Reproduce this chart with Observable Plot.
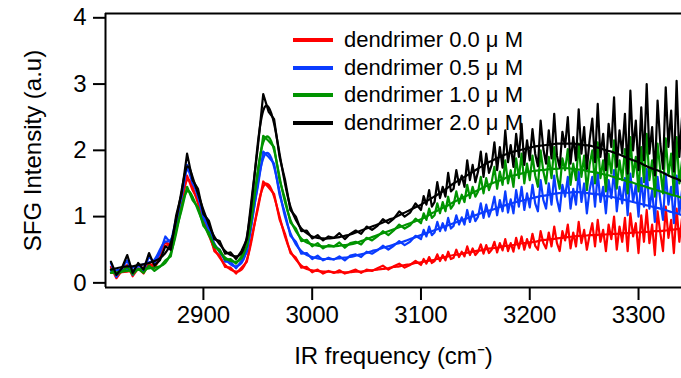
<!DOCTYPE html>
<html><head><meta charset="utf-8">
<script src="https://cdn.jsdelivr.net/npm/d3@7"></script>
<script src="https://cdn.jsdelivr.net/npm/@observablehq/plot@0.6"></script>
<style>
body{margin:0;background:#fff;}
#wrap{position:relative;width:681px;height:378px;font-family:"Liberation Sans",Arial,sans-serif;}
#legend{position:absolute;left:293px;top:26px;}
.item{display:flex;align-items:center;height:27.7px;font-size:22px;line-height:1;color:#000;}
.swatch{width:40px;height:4px;margin-right:11px;}
</style></head><body><div id="wrap"><div id="legend"></div></div>
<script>
// wavenumber grid of the measured spectra (cm^-1)
const wavenumbers = [2815,2820,2825,2830,2835,2840,2845,2850,2855,2860,2865,2870,2875,2880,2885,2890,2895,2900,2905,2910,2915,2920,2925,2930,2935,2940,2945,2950,2955,2960,2965,2970,2975,2980,2985,2990,2995,3000,3005,3010,3015,3020,3025,3030,3035,3040,3045,3050,3055,3060,3065,3070,3075,3080,3085,3090,3095,
3100,3102.5,3105,3107.5,3110,3112.5,3115,3117.5,3120,3122.5,3125,3127.5,3130,3132.5,3135,3137.5,3140,3142.5,3145,3147.5,3150,3152.5,3155,3157.5,3160,3162.5,3165,3167.5,3170,3172.5,3175,3177.5,3180,3182.5,3185,3187.5,3190,3192.5,3195,3197.5,3200,3202.5,3205,3207.5,3210,3212.5,3215,3217.5,3220,3222.5,3225,3227.5,3230,3232.5,3235,3237.5,3240,3242.5,3245,3247.5,3250,3252.5,3255,3257.5,3260,3262.5,3265,3267.5,3270,3272.5,3275,3277.5,3280,3282.5,3285,3287.5,3290,3292.5,3295,3297.5,3300,3302.5,3305,3307.5,3310,3312.5,3315,3317.5,3320,3322.5,3325,3327.5,3330,3332.5,3335,3337.5,3340];
// wavenumber grid of the fitted curves
const fitWavenumbers = [2815,2820,2825,2830,2835,2840,2845,2850,2855,2860,2865,2870,2875,2880,2885,2890,2895,2900,2905,2910,2915,2920,2925,2930,2935,2940,2945,2950,2955,2960,2965,2970,2975,2980,2985,2990,2995,3000,3005,3010,3015,3020,3025,3030,3035,3040,3045,3050,3055,3060,3065,3070,3075,3080,3085,3090,3095,3100,3105,3110,3115,3120,3125,3130,3135,3140,3145,3150,3155,3160,3165,3170,3175,3180,3185,3190,3195,3200,3205,3210,3215,3220,3225,3230,3235,3240,3245,3250,3255,3260,3265,3270,3275,3280,3285,3290,3295,3300,3305,3310,3315,3320,3325,3330,3335,3340];

const seriesNames = ["dendrimer 0.0 \u03bc M","dendrimer 0.5 \u03bc M","dendrimer 1.0 \u03bc M","dendrimer 2.0 \u03bc M"];
const seriesColors = ["#ff0000","#0a3cff","#009400","#000000"];

// measured spectra
const spec00 = [0.24,0.07,0.18,0.27,0.10,0.22,0.14,0.30,0.22,0.38,0.62,0.56,0.92,1.20,1.62,1.40,1.25,0.90,0.77,0.48,0.41,0.24,0.23,0.14,0.23,0.32,0.74,1.11,1.53,1.44,1.34,0.96,0.74,0.45,0.38,0.23,0.24,
0.16,0.20,0.14,0.18,0.15,0.19,0.14,0.17,0.20,0.15,0.20,0.18,0.22,0.26,0.20,0.25,0.29,0.23,0.27,0.33,
0.27,0.36,0.29,0.39,0.30,0.33,0.43,0.33,0.42,0.34,0.47,0.36,0.38,0.50,0.39,0.47,0.40,0.55,0.42,0.52,
0.42,0.47,0.58,0.44,0.57,0.45,0.50,0.62,0.46,0.60,0.49,0.66,0.48,0.60,0.47,0.68,0.52,0.70,0.50,0.66,
0.53,0.74,0.56,0.50,0.78,0.60,0.52,0.76,0.55,0.85,0.60,0.48,0.78,0.64,0.88,0.52,0.76,0.55,0.92,0.60,
0.80,0.50,0.72,0.90,0.55,0.95,0.62,0.80,0.48,0.88,0.66,1.00,0.50,0.85,0.62,0.98,0.48,1.05,0.70,0.90,
0.45,1.02,0.62,1.10,0.60,0.88,0.42,1.08,0.75,0.48,1.15,0.68,0.95,0.45,1.12,0.62,0.98];
const spec05 = [0.30,0.09,0.22,0.34,0.12,0.28,0.18,0.40,0.30,0.45,0.70,0.60,0.98,1.30,1.78,1.50,1.36,0.97,0.85,0.56,0.50,0.32,0.32,0.22,0.33,0.47,1.00,1.45,1.98,1.90,1.80,1.33,1.05,0.71,0.62,0.44,0.45,
0.36,0.41,0.34,0.38,0.35,0.40,0.34,0.41,0.43,0.39,0.47,0.44,0.49,0.56,0.50,0.56,0.63,0.57,0.62,0.71,
0.66,0.80,0.70,0.85,0.72,0.76,0.92,0.78,0.90,0.79,0.98,0.82,0.86,1.02,0.88,0.99,0.88,1.10,0.92,1.08,
0.93,1.00,1.20,0.98,1.18,1.00,1.12,1.30,1.02,1.25,1.08,1.38,1.06,1.26,1.05,1.40,1.15,1.45,1.10,1.35,
1.14,1.48,1.20,1.08,1.55,1.25,1.12,1.50,1.18,1.62,1.26,1.08,1.48,1.30,1.60,1.12,1.42,1.18,1.68,1.22,
1.50,1.05,1.40,1.60,1.15,1.66,1.22,1.45,1.05,1.55,1.28,1.70,1.08,1.45,1.20,1.58,1.02,1.65,1.22,1.48,
1.00,1.58,1.15,1.72,1.12,1.40,0.92,1.60,1.25,0.95,1.65,1.18,1.45,0.90,1.62,1.05,1.40];
const spec10 = [0.20,0.12,0.17,0.24,0.13,0.21,0.15,0.26,0.18,0.24,0.34,0.40,0.80,1.10,1.45,1.25,1.14,0.86,0.76,0.54,0.50,0.35,0.36,0.29,0.40,0.55,1.10,1.65,2.22,2.14,2.05,1.55,1.27,0.91,0.82,0.63,0.65,
0.55,0.60,0.52,0.57,0.55,0.61,0.53,0.60,0.62,0.58,0.68,0.64,0.70,0.78,0.72,0.79,0.88,0.82,0.87,0.97,
0.90,1.05,0.95,1.12,0.98,1.02,1.20,1.05,1.22,1.08,1.30,1.12,1.18,1.38,1.20,1.33,1.22,1.48,1.28,1.45,
1.30,1.38,1.60,1.35,1.58,1.40,1.52,1.75,1.42,1.68,1.48,1.85,1.50,1.70,1.45,1.88,1.58,1.95,1.50,1.80,
1.55,1.92,1.62,1.45,2.00,1.68,1.50,1.90,1.58,2.05,1.62,1.42,1.88,1.70,2.02,1.48,1.80,1.55,2.10,1.60,
1.92,1.40,1.78,2.00,1.50,2.12,1.58,1.85,1.38,1.95,1.65,2.15,1.42,1.85,1.55,2.02,1.35,2.20,1.60,1.90,
1.38,2.05,1.52,2.25,1.55,1.85,1.30,2.10,1.70,1.35,2.18,1.62,1.95,1.32,2.20,1.50,1.85];
const spec20 = [0.32,0.12,0.22,0.42,0.15,0.30,0.20,0.45,0.26,0.34,0.55,0.50,1.02,1.35,1.95,1.55,1.42,1.04,0.94,0.66,0.63,0.44,0.46,0.36,0.48,0.66,1.36,2.04,2.85,2.58,2.47,1.90,1.56,1.10,1.00,0.78,0.79,
0.67,0.72,0.64,0.70,0.68,0.75,0.66,0.74,0.79,0.74,0.85,0.80,0.86,0.96,0.90,0.97,1.08,1.00,1.06,1.20,
1.10,1.31,1.18,1.40,1.15,1.22,1.52,1.28,1.45,1.30,1.66,1.38,1.42,1.70,1.48,1.62,1.45,1.85,1.55,1.78,
1.52,1.68,1.98,1.60,1.95,1.66,1.78,2.12,1.70,2.05,1.74,2.30,1.82,2.08,1.75,2.25,1.90,2.40,1.78,2.15,
1.85,2.32,1.95,1.76,2.45,2.02,1.80,2.30,1.88,2.55,1.92,1.74,2.28,2.05,2.50,1.80,2.20,1.85,2.62,1.95,
2.35,1.72,2.15,2.48,1.82,2.70,1.90,2.25,1.70,2.40,2.05,2.80,1.75,2.30,1.95,2.55,1.65,2.90,2.00,2.45,
1.70,2.65,1.85,3.00,1.95,2.35,1.62,2.75,2.10,1.72,2.95,2.05,2.60,1.68,3.05,1.90,2.50];

// smooth fitted curves
const fit00 = [0.15,0.15,0.16,0.17,0.18,0.20,0.23,0.26,0.30,0.45,0.55,0.62,0.85,1.25,1.55,1.45,1.20,0.95,0.72,0.52,0.38,0.27,0.20,0.17,0.20,0.35,0.70,1.15,1.45,1.48,1.30,1.00,0.70,0.48,0.35,0.26,0.21,0.19,0.18,0.17,0.17,0.16,0.16,0.16,0.16,0.17,0.17,0.18,0.19,0.20,0.21,0.22,0.24,0.25,0.27,0.28,0.30,0.31,0.33,0.34,0.36,0.38,0.40,0.42,0.43,0.45,0.46,0.48,0.49,0.51,0.52,0.53,0.55,0.56,0.57,0.59,0.60,0.61,0.62,0.64,0.65,0.66,0.67,0.68,0.69,0.70,0.71,0.71,0.72,0.72,0.73,0.73,0.74,0.74,0.75,0.75,0.76,0.76,0.77,0.77,0.78,0.78,0.79,0.80,0.81,0.82];
const fit05 = [0.18,0.19,0.20,0.21,0.23,0.25,0.28,0.31,0.35,0.50,0.62,0.65,0.90,1.35,1.70,1.55,1.30,1.02,0.80,0.60,0.46,0.36,0.28,0.25,0.30,0.50,0.95,1.50,1.88,1.95,1.75,1.38,1.00,0.75,0.58,0.48,0.42,0.39,0.37,0.36,0.36,0.36,0.37,0.38,0.39,0.41,0.43,0.45,0.48,0.50,0.53,0.55,0.58,0.60,0.63,0.66,0.69,0.72,0.75,0.78,0.81,0.84,0.87,0.90,0.93,0.96,0.99,1.02,1.05,1.08,1.10,1.13,1.16,1.18,1.21,1.23,1.25,1.27,1.29,1.31,1.32,1.34,1.35,1.36,1.36,1.37,1.37,1.36,1.35,1.34,1.33,1.31,1.30,1.28,1.26,1.24,1.22,1.20,1.18,1.16,1.14,1.12,1.10,1.07,1.05,1.02];
const fit10 = [0.15,0.16,0.17,0.18,0.19,0.20,0.21,0.22,0.23,0.25,0.30,0.45,0.75,1.15,1.38,1.30,1.10,0.90,0.72,0.58,0.47,0.38,0.33,0.32,0.37,0.58,1.05,1.70,2.12,2.20,2.00,1.60,1.22,0.95,0.78,0.67,0.61,0.58,0.56,0.55,0.55,0.55,0.56,0.57,0.58,0.60,0.63,0.66,0.69,0.72,0.75,0.78,0.81,0.84,0.87,0.90,0.93,0.96,1.00,1.05,1.09,1.13,1.17,1.22,1.26,1.30,1.34,1.38,1.42,1.46,1.50,1.53,1.56,1.60,1.62,1.64,1.66,1.68,1.69,1.70,1.71,1.72,1.72,1.73,1.73,1.72,1.71,1.70,1.68,1.67,1.65,1.63,1.61,1.58,1.56,1.53,1.51,1.48,1.46,1.43,1.41,1.38,1.36,1.33,1.31,1.28];
const fit20 = [0.20,0.22,0.24,0.25,0.25,0.27,0.28,0.30,0.33,0.37,0.45,0.60,0.95,1.40,1.75,1.60,1.35,1.10,0.88,0.70,0.58,0.48,0.42,0.40,0.45,0.70,1.30,2.10,2.60,2.65,2.40,1.95,1.50,1.15,0.95,0.82,0.75,0.70,0.68,0.67,0.67,0.68,0.69,0.71,0.73,0.76,0.79,0.82,0.85,0.88,0.91,0.95,0.98,1.02,1.06,1.10,1.14,1.18,1.23,1.28,1.33,1.38,1.44,1.50,1.55,1.60,1.65,1.70,1.75,1.80,1.84,1.88,1.92,1.95,1.98,2.00,2.02,2.04,2.06,2.07,2.08,2.09,2.10,2.10,2.10,2.10,2.09,2.08,2.07,2.05,2.03,2.00,1.98,1.95,1.92,1.88,1.85,1.82,1.78,1.74,1.71,1.68,1.64,1.60,1.57,1.53];

const xTicks = [2900,3000,3100,3200,3300];
const yTicks = [0,1,2,3,4];
const xDomain = [2810,3339.5];
const yDomain = [-0.07,4.065];

const specs = [spec00,spec05,spec10,spec20];
const fits = [fit00,fit05,fit10,fit20];
const toRows = (xs, arr) => xs.map((w,i)=>({wn:w, v:arr[i]})).filter(d=>d.v!=null);

const lineMarks = [];
specs.forEach((s,i)=>{
  lineMarks.push(Plot.line(toRows(wavenumbers, s),{x:"wn",y:"v",stroke:seriesColors[i],strokeWidth:2.2,clip:true}));
  lineMarks.push(Plot.line(toRows(fitWavenumbers, fits[i]),{x:"wn",y:"v",stroke:seriesColors[i],strokeWidth:2.2,curve:"natural",clip:true}));
});

const chart = Plot.plot({
  width:681, height:378,
  marginLeft:105, marginRight:0, marginTop:13, marginBottom:91,
  style:{fontFamily:"'Liberation Sans', Arial, sans-serif", fontSize:"24px", color:"#000", background:"#fff", overflow:"visible"},
  x:{domain:xDomain},
  y:{domain:yDomain},
  marks:[
    ...lineMarks,
    Plot.ruleY(yDomain,{stroke:"#000",strokeWidth:2}),
    Plot.ruleX([xDomain[0]],{stroke:"#000",strokeWidth:2}),
    Plot.axisX(xTicks,{tickSize:13,tickPadding:5,tickFormat:"d",strokeWidth:2,fontSize:24,label:"IR frequency (cm\u207b)",labelAnchor:"center",labelArrow:"none",labelOffset:76}),
    Plot.axisY(yTicks,{tickSize:12,tickPadding:7,tickFormat:"d",strokeWidth:2,fontSize:24,label:"SFG Intensity (a.u)",labelAnchor:"center",labelArrow:"none",labelOffset:82})
  ]
});
document.getElementById("wrap").prepend(chart);

const legend = document.getElementById("legend");
seriesNames.forEach((n,i)=>{
  const it = document.createElement("div"); it.className="item";
  const sw = document.createElement("div"); sw.className="swatch"; sw.style.background=seriesColors[i];
  const tx = document.createElement("span"); tx.textContent=n;
  it.appendChild(sw); it.appendChild(tx); legend.appendChild(it);
});
</script></body></html>
